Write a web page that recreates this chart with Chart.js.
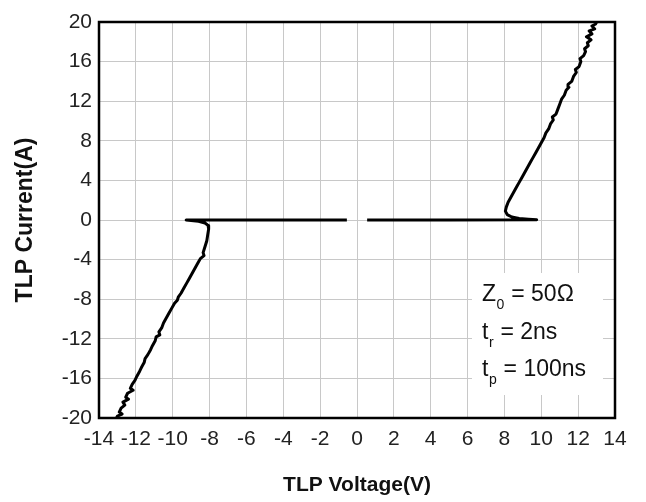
<!DOCTYPE html>
<html><head><meta charset="utf-8">
<script src="https://cdn.jsdelivr.net/npm/chart.js@4.4.0/dist/chart.umd.min.js"></script>
<style>html,body{margin:0;padding:0;background:#fff;}#wrap{width:646px;height:502px;}</style>
</head><body><div id="wrap"><canvas id="c" width="646" height="502"></canvas></div>
<script>
// Negative branch (voltage V, current A)
const negVoltage = [-0.55,-5.0,-9.27,-9.0,-8.6,-8.25,-8.08,-8.05,-8.1,-8.15,-8.25,-8.35,-8.3,-8.5,-8.65,-8.8,-8.95,-9.1,-9.25,-9.4,-9.55,-9.7,-9.75,-9.9,-10.05,-10.2,-10.35,-10.5,-10.6,-10.75,-10.7,-10.9,-10.95,-11.1,-11.2,-11.35,-11.5,-11.55,-11.7,-11.8,-11.95,-12.05,-12.2,-12.3,-12.15,-12.45,-12.55,-12.4,-12.7,-12.6,-12.8,-12.9,-12.75,-13.0,-13.05];
const negCurrent = [0,0,0,-0.05,-0.12,-0.3,-0.55,-0.9,-1.5,-2.1,-2.7,-3.3,-3.6,-3.9,-4.4,-4.9,-5.4,-5.9,-6.4,-6.9,-7.4,-7.8,-8.1,-8.4,-8.9,-9.4,-9.9,-10.4,-10.9,-11.3,-11.6,-11.8,-12.2,-12.7,-13.1,-13.6,-14.0,-14.4,-14.9,-15.3,-15.8,-16.2,-16.6,-17.0,-17.2,-17.5,-17.9,-18.1,-18.4,-18.7,-19.0,-19.4,-19.6,-19.8,-20.0];
// Positive branch
const posVoltage = [0.55,5.0,9.75,9.3,8.8,8.4,8.15,8.05,8.1,8.2,8.35,8.5,8.65,8.8,8.95,9.1,9.25,9.4,9.55,9.7,9.85,10.0,10.15,10.25,10.4,10.5,10.65,10.6,10.8,10.9,11.0,11.1,11.25,11.35,11.5,11.45,11.65,11.75,11.9,11.85,12.05,12.15,12.1,12.3,12.4,12.35,12.55,12.5,12.7,12.45,12.75,12.6,12.9,12.75,12.95,13.0];
const posCurrent = [0,0,0.02,0.08,0.15,0.3,0.55,0.9,1.3,1.8,2.3,2.8,3.3,3.8,4.3,4.8,5.3,5.8,6.3,6.8,7.3,7.8,8.3,8.8,9.2,9.7,10.1,10.4,10.7,11.2,11.7,12.2,12.6,13.1,13.4,13.7,14.0,14.5,14.9,15.2,15.5,16.0,16.3,16.6,17.0,17.3,17.6,17.9,18.2,18.5,18.8,19.1,19.3,19.6,19.8,20.0];
const xTicks = [-14,-12,-10,-8,-6,-4,-2,0,2,4,6,8,10,12,14];
const yTicks = [-20,-16,-12,-8,-4,0,4,8,12,16,20];
const xTitle = 'TLP Voltage(V)';
const yTitle = 'TLP Current(A)';

const toPts = (xs, ys) => xs.map((x, i) => ({x, y: ys[i]}));
const FAM = '"Liberation Sans", Arial, sans-serif';

const frame = {
  id: 'frame',
  afterDraw(chart) {
    const {ctx, chartArea: a} = chart;
    ctx.save();
    ctx.strokeStyle = '#000'; ctx.lineWidth = 2.5;
    ctx.strokeRect(a.left, a.top, a.right - a.left, a.bottom - a.top);
    // annotation box
    const bx = 472, by = 273, bw = 131, bh = 122;
    ctx.fillStyle = '#fff';
    ctx.fillRect(bx, by, bw, bh);
    ctx.fillStyle = '#111';
    ctx.textBaseline = 'alphabetic';
    ctx.textAlign = 'left';
    const big = '23px ' + FAM;
    const small = '14px ' + FAM;
    function line(main, sub, rest, x, y) {
      ctx.font = big; ctx.fillText(main, x, y);
      const w = ctx.measureText(main).width;
      ctx.font = small; ctx.fillText(sub, x + w + 0.5, y + 8);
      const w2 = ctx.measureText(sub).width;
      ctx.font = big; ctx.fillText(rest, x + w + w2 + 1, y);
    }
    line('Z', '0', ' = 50\u03A9', 482, 301);
    line('t', 'r', ' = 2ns', 482, 339);
    line('t', 'p', ' = 100ns', 482, 376);
    ctx.restore();
  }
};

new Chart(document.getElementById('c'), {
  type: 'scatter',
  data: {
    datasets: [
      {data: toPts(negVoltage, negCurrent), showLine: true, borderColor: '#000', borderWidth: 3, borderJoinStyle: 'round', pointRadius: 0, tension: 0, fill: false},
      {data: toPts(posVoltage, posCurrent), showLine: true, borderColor: '#000', borderWidth: 3, borderJoinStyle: 'round', pointRadius: 0, tension: 0, fill: false}
    ]
  },
  options: {
    responsive: false, animation: false,
    layout: {padding: {top: 22, right: 31, left: 0, bottom: 0}},
    plugins: {legend: {display: false}, tooltip: {enabled: false}},
    scales: {
      x: {
        type: 'linear', min: -14, max: 14,
        afterBuildTicks: s => { s.ticks = xTicks.map(v => ({value: v})); },
        afterFit: s => { s.height = 84; },
        grid: {color: '#c8c8c8', lineWidth: 1, drawTicks: false},
        border: {display: false},
        ticks: {color: '#222', padding: 9, maxRotation: 0, autoSkip: false, font: {family: FAM, size: 21}},
        title: {display: true, text: xTitle, color: '#111', padding: {top: 0, bottom: 4}, font: {family: FAM, size: 21, weight: 'bold'}}
      },
      y: {
        type: 'linear', min: -20, max: 20,
        afterBuildTicks: s => { s.ticks = yTicks.map(v => ({value: v})); },
        afterFit: s => { s.width = 99; },
        grid: {color: '#c8c8c8', lineWidth: 1, drawTicks: false},
        border: {display: false},
        ticks: {color: '#222', padding: 7, autoSkip: false, font: {family: FAM, size: 21}},
        title: {display: true, text: yTitle, color: '#111', padding: {top: 12, bottom: 0}, font: {family: FAM, size: 23, weight: 'bold'}}
      }
    }
  },
  plugins: [frame]
});
</script></body></html>
